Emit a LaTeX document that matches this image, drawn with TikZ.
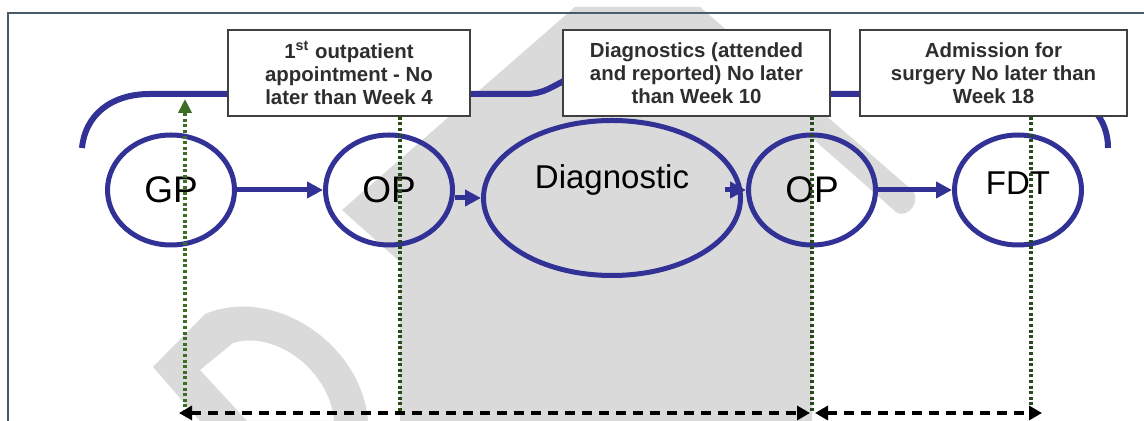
\documentclass[tikz,border=0pt]{standalone}
\usepackage{fontspec}
\setmainfont{Liberation Sans}
\usetikzlibrary{
    arrows.meta,
    shapes.geometric
}
\definecolor{pathblue}{RGB}{50,50,150}
\definecolor{markgreen}{RGB}{40,75,28}
\definecolor{tipgreen}{RGB}{60,110,35}
\definecolor{watermark}{RGB}{218,218,218}
\definecolor{framegray}{RGB}{75,90,105}

\begin{document}
\begin{tikzpicture}[
    x=0.5pt,
    y=-0.5pt,
    stage/.style = {
        draw=pathblue,
        ellipse,
        line width=2.5pt,
        inner sep=0pt,
        minimum width=63.5pt,
        minimum height=55pt,
        font=\fontsize{18.5}{20}\selectfont
    },
    target/.style = {
        draw=black!75,
        rectangle,
        fill=white,
        line width=0.75pt,
        inner sep=0pt,
        minimum height=43pt,
        minimum width=133.5pt,
        align=center,
        text=black!82,
        font=\fontsize{10.2}{11.5}\selectfont\bfseries
    },
    flow/.style = {
        draw=pathblue,
        line width=2.5pt,
        -{Triangle[length=8pt,width=8pt]}
    },
    milestone/.style = {
        draw=markgreen,
        line width=1.8pt,
        dash pattern=on 1.5pt off 1.3pt
    },
    span/.style = {
        draw=black,
        line width=1.75pt,
        dash pattern=on 5pt off 3.5pt,
        {Triangle[length=6.5pt,width=7pt]}-{Triangle[length=6.5pt,width=7pt]}
    },
]
    \useasboundingbox (0,0) rectangle (1144,421);

    % Watermark
    \fill [watermark] (400,421) -- (400,262) -- (342,210) -- (575,7)
        -- (700,7) -- (912,190) .. controls (922,200) and (908,220) .. (896,212)
        -- (812,138) -- (812,421) -- cycle;
    \fill [watermark, even odd rule]
        (200,421) -- (153,367) -- (205,314)
            .. controls (275,285) and (362,345) .. (368,421) -- cycle
        (247,421) -- (200,370) -- (233,343)
            .. controls (275,330) and (330,370) .. (334,421) -- cycle;

    \draw [framegray, line width=1pt] (1144,13) -- (8,13) -- (8,421);

    % Time line above the stages
    \coordinate (bracket_l) at (82,148);
    \coordinate (bracket_r) at (1108,148);
    \draw [pathblue, line width=3pt]
        (bracket_l) .. controls (85,116) and (110,94) .. (150,94)
        -- (525,94) .. controls (545,94) and (552,86) .. (570,78)
        -- (820,94) -- (1050,94)
        .. controls (1090,94) and (1108,120) .. (bracket_r);

    \node [target, minimum width=121pt] (target_op) at (349,73)
        {1\textsuperscript{st} outpatient\\ appointment - No\\ later than Week 4};
    \node [target] (target_diag) at (696.5,73)
        {Diagnostics (attended\\ and reported) No later\\ than Week 10};
    \node [target] (target_adm) at (993.5,73)
        {Admission for\\ surgery No later than\\ Week 18};

    % Stages
    \node [stage] (gp) at (171,190) {GP};
    \node [stage] (op_first) at (389,190) {OP};
    \node [stage, minimum width=128.5pt, minimum height=77.5pt,
        font=\fontsize{16.5}{18}\selectfont, text depth=21pt]
        (diag) at (612,198) {Diagnostic};
    \node [stage] (op_second) at (812,190) {OP};
    \node [stage, font=\fontsize{16.5}{18}\selectfont, text depth=7pt]
        (fdt) at (1018,190) {FDT};

    \draw [flow] (gp) -- (op_first);
    \draw [flow] (op_first.east |- diag.west) -- (diag.west);
    \draw [flow] ([xshift=-9pt]diag.east |- op_second.west) -- (op_second.west);
    \draw [flow] (op_second) -- (fdt);

    \begin{scope}
        \coordinate (gp_foot) at (185,413);
        \coordinate (gp_top) at (185,99);
        \coordinate (op_foot) at (400,413);
        \coordinate (op2_foot) at (812,413);
        \coordinate (fdt_foot) at (1031,413);

        \draw [milestone, -{Triangle[length=7pt,width=6.5pt,fill=tipgreen]},
            tipgreen] (gp_foot) -- (gp_top);
        \draw [milestone] (target_op.south -| op_foot) -- (op_foot);
        \draw [milestone] (target_diag.south -| op2_foot) -- (op2_foot);
        \draw [milestone] (target_adm.south -| fdt_foot) -- (fdt_foot);

        \draw [span] ([xshift=-3pt]gp_foot) -- ([xshift=-1pt]op2_foot);
        \draw [span] ([xshift=1.5pt]op2_foot) -- ([xshift=5.5pt]fdt_foot);
    \end{scope}
\end{tikzpicture}
\end{document}
